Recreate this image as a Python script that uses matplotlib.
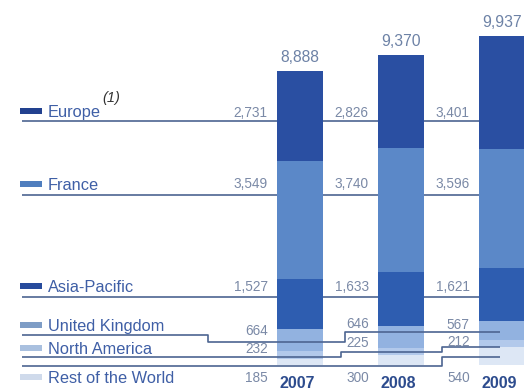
import matplotlib
matplotlib.use("Agg")
import matplotlib.pyplot as plt
from matplotlib import font_manager as fm
from matplotlib.patches import Rectangle

# ---------------- data ----------------
years = ["2007", "2008", "2009"]
regions = ["Europe", "France", "Asia-Pacific", "United Kingdom",
           "North America", "Rest of the World"]
europe = [2731, 2826, 3401]
france = [3549, 3740, 3596]
asia_pacific = [1527, 1633, 1621]
united_kingdom = [664, 646, 567]
north_america = [232, 225, 212]
rest_of_world = [185, 300, 540]
value_labels = {
    "Europe": ["2,731", "2,826", "3,401"],
    "France": ["3,549", "3,740", "3,596"],
    "Asia-Pacific": ["1,527", "1,633", "1,621"],
    "United Kingdom": ["664", "646", "567"],
    "North America": ["232", "225", "212"],
    "Rest of the World": ["185", "300", "540"],
}

# ---------------- style ----------------
names = {f.name for f in fm.fontManager.ttflist}
FONT = "Liberation Sans" if "Liberation Sans" in names else "DejaVu Sans"
plt.rcParams["font.family"] = [FONT, "DejaVu Sans"]

bar_colors = {
    "Europe": "#2a4fa2",
    "France": "#5b88c8",
    "Asia-Pacific": "#2e5db0",
    "United Kingdom": "#92b2e0",
    "North America": "#b2c9eb",
    "Rest of the World": "#dde7f5",
}
swatch_colors = {
    "Europe": "#22418f",
    "France": "#4f7ebe",
    "Asia-Pacific": "#274b9c",
    "United Kingdom": "#7e9dc6",
    "North America": "#a9c0df",
    "Rest of the World": "#cfdaeb",
}
LEGEND_TXT = "#3f5fa6"
VALUE_TXT = "#7a89a6"
TOTAL_TXT = "#6d82a6"
YEAR_TXT = "#2d4c8e"
LINE_C = "#4d6591"

W, H = 524, 391
U = 30.2          # value units per pixel
BASE = 365        # baseline pixel row (from top)
CX0, DX = 300, 101

fig = plt.figure(figsize=(W / 100, H / 100), dpi=100)
ax = fig.add_axes([0, 0, 1, 1])
ax.set_xlim((0 - CX0) / DX, (W - CX0) / DX)
ax.set_ylim(-(H - BASE) * U, BASE * U)
ax.axis("off")


def X(px):
    return (px - CX0) / DX


def Y(py):
    return (BASE - py) * U


series = {
    "Europe": europe,
    "France": france,
    "Asia-Pacific": asia_pacific,
    "United Kingdom": united_kingdom,
    "North America": north_america,
    "Rest of the World": rest_of_world,
}
stack_order = ["Rest of the World", "North America", "United Kingdom",
               "Asia-Pacific", "France", "Europe"]

xs = list(range(len(years)))
bottoms = [0] * len(years)
for name in stack_order:
    vals = series[name]
    ax.bar(xs, vals, bottom=bottoms, width=0.45, color=bar_colors[name],
           linewidth=0, zorder=2)
    bottoms = [b + v for b, v in zip(bottoms, vals)]
totals = bottoms

for x, t in zip(xs, totals):
    ax.text(x, t + 8.5 * U, f"{t:,}", ha="center", va="baseline",
            fontsize=11.3, color=TOTAL_TXT)

# ---------------- leader lines (layout) ----------------
leader = {
    "Europe": ([22, 524], [121, 121], 1),
    "France": ([22, 524], [195, 195], 1),
    "Asia-Pacific": ([22, 524], [297, 297], 1),
    "United Kingdom": ([22, 208, 208, 345, 345, 500], [335, 335, 342, 342, 332, 332], 3),
    "North America": ([22, 341, 341, 442, 442, 500], [357, 357, 352, 352, 347, 347], 3),
    "Rest of the World": ([22, 442, 442, 500], [366, 366, 357, 357], 3),
}
for name, (lx, ly, z) in leader.items():
    ax.plot([X(v) for v in lx], [Y(v) for v in ly], color=LINE_C,
            lw=1.2, zorder=z, solid_capstyle="butt")

# ---------------- legend labels + swatches ----------------
label_base = {"Europe": 117, "France": 190, "Asia-Pacific": 292,
              "United Kingdom": 331, "North America": 354,
              "Rest of the World": 383}
for name in regions:
    b = label_base[name]
    ax.add_patch(Rectangle((X(20), Y(b - 3)), X(42) - X(20), Y(b - 9) - Y(b - 3),
                           color=swatch_colors[name], lw=0, zorder=4))
    ax.text(X(48), Y(b), name, ha="left", va="baseline", fontsize=11.8,
            color=LEGEND_TXT, zorder=4)

ax.text(X(102), Y(102), "(1)", ha="left", va="baseline", fontsize=10.5,
        style="italic", color="#333333", zorder=4)

# ---------------- per-year value labels ----------------
val_base = {
    "Europe": [117, 117, 117],
    "France": [188, 188, 188],
    "Asia-Pacific": [291, 291, 291],
    "United Kingdom": [335, 328, 329],
    "North America": [353, 347, 346],
    "Rest of the World": [382, 382, 382],
}
for name in regions:
    for i in xs:
        ax.text(i - 0.32, Y(val_base[name][i]), value_labels[name][i],
                ha="right", va="baseline", fontsize=9.8, color=VALUE_TXT,
                zorder=4)

for i, yr in zip(xs, years):
    ax.text(i - 0.03, Y(390.5), yr, ha="center", va="bottom", fontsize=11.5,
            fontweight="bold", color=YEAR_TXT, zorder=4)

fig.savefig("out.png", dpi=100, facecolor="white")
